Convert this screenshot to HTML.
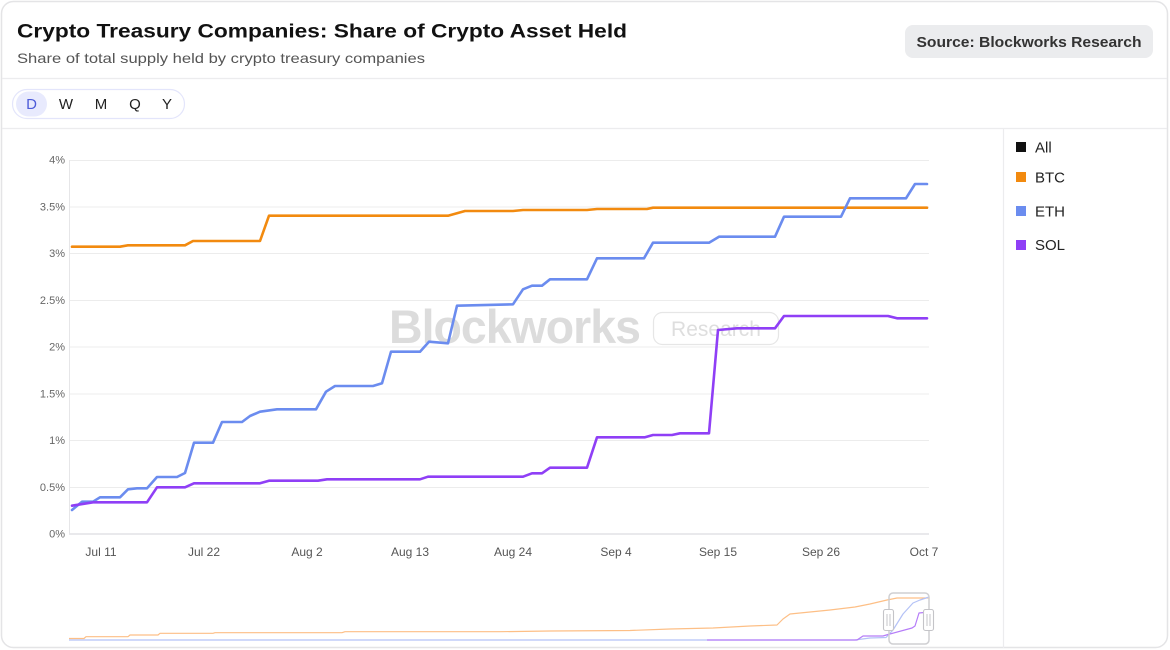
<!DOCTYPE html>
<html>
<head>
<meta charset="utf-8">
<style>
  html,body{margin:0;padding:0;background:#fff;}
  body{width:1170px;height:650px;overflow:hidden;font-family:"Liberation Sans",sans-serif;}
  svg{display:block;}
</style>
</head>
<body>
<svg width="1170" height="650" viewBox="0 0 1170 650" xmlns="http://www.w3.org/2000/svg" font-family="Liberation Sans, sans-serif">
  <!-- card -->
  <rect x="1.5" y="1.5" width="1166" height="646" rx="12" ry="12" fill="#fff" stroke="#e4e4e6" stroke-width="1.5"/>

  <!-- header -->
  <text x="17" y="37.5" font-size="19" font-weight="bold" fill="#111" textLength="610" lengthAdjust="spacingAndGlyphs">Crypto Treasury Companies: Share of Crypto Asset Held</text>
  <text x="17" y="63" font-size="14" fill="#555" textLength="408" lengthAdjust="spacingAndGlyphs">Share of total supply held by crypto treasury companies</text>

  <rect x="905" y="25" width="248" height="33" rx="8" ry="8" fill="#ebecee"/>
  <text x="1029" y="47" font-size="15" font-weight="bold" fill="#333" text-anchor="middle" textLength="225" lengthAdjust="spacingAndGlyphs">Source: Blockworks Research</text>

  <line x1="2" y1="78.5" x2="1167" y2="78.5" stroke="#ececee" stroke-width="1.2"/>

  <!-- toggle -->
  <rect x="12.5" y="89.5" width="172" height="29" rx="14.5" ry="14.5" fill="#fff" stroke="#e3e5fb" stroke-width="1.2"/>
  <rect x="16" y="91.5" width="31" height="25" rx="12.5" ry="12.5" fill="#e8eafd"/>
  <g font-size="15" fill="#222" text-anchor="middle">
    <text x="31.5" y="109" fill="#4d5bd8">D</text>
    <text x="66" y="109">W</text>
    <text x="101" y="109">M</text>
    <text x="135" y="109">Q</text>
    <text x="167" y="109">Y</text>
  </g>

  <line x1="2" y1="128.5" x2="1167" y2="128.5" stroke="#ececee" stroke-width="1.2"/>
  <line x1="1003.5" y1="129" x2="1003.5" y2="648" stroke="#ececee" stroke-width="1.2"/>

  <!-- gridlines -->
  <g stroke="#ececec" stroke-width="1">
    <line x1="69" y1="160.5" x2="929" y2="160.5"/>
    <line x1="69" y1="207" x2="929" y2="207"/>
    <line x1="69" y1="253.5" x2="929" y2="253.5"/>
    <line x1="69" y1="300.5" x2="929" y2="300.5"/>
    <line x1="69" y1="347" x2="929" y2="347"/>
    <line x1="69" y1="394" x2="929" y2="394"/>
    <line x1="69" y1="440.5" x2="929" y2="440.5"/>
    <line x1="69" y1="487.5" x2="929" y2="487.5"/>
  </g>
  <line x1="69" y1="534" x2="929" y2="534" stroke="#dcdce0" stroke-width="1.2"/>
  <line x1="69.5" y1="160" x2="69.5" y2="534" stroke="#e6e6e8" stroke-width="1"/>

  <!-- y labels -->
  <g font-size="11" fill="#666" text-anchor="end">
    <text x="65" y="163.5">4%</text>
    <text x="65" y="210.5">3.5%</text>
    <text x="65" y="257">3%</text>
    <text x="65" y="304">2.5%</text>
    <text x="65" y="350.5">2%</text>
    <text x="65" y="397.5">1.5%</text>
    <text x="65" y="444">1%</text>
    <text x="65" y="491">0.5%</text>
    <text x="65" y="537.5">0%</text>
  </g>

  <!-- x labels -->
  <g font-size="12" fill="#555" text-anchor="middle">
    <text x="101" y="556">Jul 11</text>
    <text x="204" y="556">Jul 22</text>
    <text x="307" y="556">Aug 2</text>
    <text x="410" y="556">Aug 13</text>
    <text x="513" y="556">Aug 24</text>
    <text x="616" y="556">Sep 4</text>
    <text x="718" y="556">Sep 15</text>
    <text x="821" y="556">Sep 26</text>
    <text x="924" y="556">Oct 7</text>
  </g>

  <!-- watermark -->
  <text x="389" y="343" font-size="47" font-weight="bold" fill="#dcdcdc" letter-spacing="-1" textLength="251" lengthAdjust="spacingAndGlyphs">Blockworks</text>
  <rect x="653.5" y="312.5" width="125" height="32" rx="9" ry="9" fill="none" stroke="#e6e6e6" stroke-width="1.2"/>
  <text x="716" y="336" font-size="21" fill="#dedede" text-anchor="middle">Research</text>

  <!-- series -->
  <g fill="none" stroke-width="2.6" stroke-linejoin="round" stroke-linecap="round">
    <polyline stroke="#f28a0f" points="72,246.7 120,246.7 128,245.3 185,245.3 193,241 260,241 269,215.7 448,215.7 465,211 513,211 523,210 587,210 597,209 647,209 653,207.7 927,207.7"/>
    <polyline stroke="#6b8cef" points="72,510 82,501.7 93,501.7 100,497.3 120,497.3 128,489.3 137,488.3 147,488.3 157,477 177,477 185,473 194,442.7 213,442.7 222,422 242,422 250,416 260,411.7 277,409.3 316,409.3 326,391.7 335,386 373,386 382,383.3 391,351.7 420,351.7 429,341.7 448,343.3 457,305.7 513,304.3 523,289.3 532,285.7 542,285.7 550,279.3 587,279.3 597,258.3 644,258.3 653,242.7 709,242.7 719,236.7 775,236.7 784,216.7 841,216.7 850,198.3 906,198.3 915,184 927,184"/>
    <polyline stroke="#8f3ff6" points="72,505.7 93,502.3 147,502.3 157,487.3 185,487.3 194,483.3 260,483.3 269,480.7 318,480.7 327,479.3 420,479.3 428,476.7 523,476.7 532,473.3 542,473.3 550,467.7 587,467.7 597,437.3 645,437.3 653,435 672,435 680,433.3 709,433.3 718,330 737,328.3 775,328.3 784,316 888,316 897,318.3 927,318.3"/>
  </g>

  <!-- navigator -->
  <g fill="none" stroke-width="1.2" stroke-linejoin="round">
    <polyline stroke="#fdbf86" points="69,638.5 84,638.5 86,636.7 128,636.7 130,635 158,635 160,633.3 213,633.3 215,632.7 342,632.7 345,631.7 500,631.7 550,631 630,630.5 670,629 713,628 750,626 777,625 783,619 790,614 810,612 830,610 855,607 870,604 887,600 897,598 929,598"/>
    <polyline stroke="#b4c2f6" points="69,640 855,640 870,638 886,637.5 893,630 903,614 913,603 920,600 929,597"/>
    <polyline stroke="#b57cf8" points="707,640 857,640 863,636 883,636 888,634.5 912,628 915,626 919,613 929,612"/>
  </g>
  <rect x="889" y="593" width="40" height="51" rx="4" ry="4" fill="none" stroke="#cfcfd2" stroke-width="1.5"/>
  <g stroke="#c4c4c8" stroke-width="1.1" fill="#fff">
    <rect x="883.5" y="609.5" width="10" height="21" rx="2"/>
    <rect x="923.5" y="609.5" width="10" height="21" rx="2"/>
  </g>
  <g stroke="#c4c4c8" stroke-width="1">
    <line x1="887" y1="614" x2="887" y2="626"/>
    <line x1="890" y1="614" x2="890" y2="626"/>
    <line x1="927" y1="614" x2="927" y2="626"/>
    <line x1="930" y1="614" x2="930" y2="626"/>
  </g>

  <!-- legend -->
  <rect x="1016" y="142" width="10" height="10" fill="#111"/>
  <rect x="1016" y="172" width="10" height="10" fill="#f28a0f"/>
  <rect x="1016" y="206" width="10" height="10" fill="#6b8cef"/>
  <rect x="1016" y="240" width="10" height="10" fill="#8f3ff6"/>
  <g font-size="15" fill="#222">
    <text x="1035" y="152.5">All</text>
    <text x="1035" y="182.5">BTC</text>
    <text x="1035" y="216.5">ETH</text>
    <text x="1035" y="250">SOL</text>
  </g>
</svg>
</body>
</html>
